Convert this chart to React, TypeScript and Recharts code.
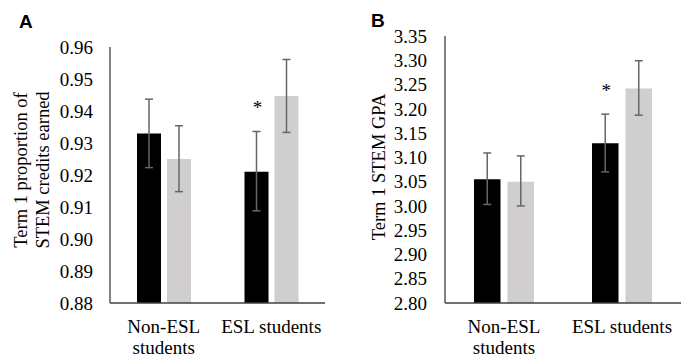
import React from "react";
import { BarChart, Bar, XAxis, YAxis, ErrorBar, LabelList, Text } from "recharts";

const groups = ["Non-ESL students", "ESL students"];
const sigMarks = ["", "*"];

// A: term 1 proportion of STEM credits earned
const creditsBlack = [0.933, 0.921];
const creditsBlackLow = [0.9223, 0.9088];
const creditsBlackHigh = [0.9437, 0.9336];
const creditsGray = [0.925, 0.9447];
const creditsGrayLow = [0.9148, 0.9333];
const creditsGrayHigh = [0.9354, 0.9561];
const creditsTicks = [0.88, 0.89, 0.9, 0.91, 0.92, 0.93, 0.94, 0.95, 0.96];

// B: term 1 STEM GPA
const gpaBlack = [3.055, 3.129];
const gpaBlackLow = [3.003, 3.07];
const gpaBlackHigh = [3.109, 3.189];
const gpaGray = [3.05, 3.242];
const gpaGrayLow = [3.0, 3.187];
const gpaGrayHigh = [3.103, 3.299];
const gpaTicks = [2.8, 2.85, 2.9, 2.95, 3.0, 3.05, 3.1, 3.15, 3.2, 3.25, 3.3, 3.35];

const SERIF = "'Liberation Serif', 'Times New Roman', serif";
const AXIS = "#404040";
const ERR = "#666666";

function makeRows(black, blackLow, blackHigh, gray, grayLow, grayHigh) {
  return groups.map((name, i) => ({
    name,
    black: black[i],
    blackHigh: blackHigh[i],
    blackErr: [black[i] - blackLow[i], blackHigh[i] - black[i]],
    gray: gray[i],
    grayErr: [gray[i] - grayLow[i], grayHigh[i] - gray[i]],
    sig: sigMarks[i],
  }));
}

const creditsRows = makeRows(creditsBlack, creditsBlackLow, creditsBlackHigh, creditsGray, creditsGrayLow, creditsGrayHigh);
const gpaRows = makeRows(gpaBlack, gpaBlackLow, gpaBlackHigh, gpaGray, gpaGrayLow, gpaGrayHigh);

// asterisk sits above the top of the black bar's error bar
function starLabel(rows, min) {
  return (props) => {
    const vb = props.viewBox || props;
    const { x, y, width, height } = vb;
    const row = rows[props.index];
    if (!row || !row.sig) return null;
    const pxPerUnit = height / (row.black - min);
    const yTop = y - (row.blackHigh - row.black) * pxPerUnit;
    return (
      <text x={x + width / 2 + 1} y={yTop - 17} textAnchor="middle" fontFamily={SERIF} fontSize={19} fill="#000000">
        {row.sig}
      </text>
    );
  };
}

function CategoryTick(props) {
  const { x, y, payload } = props;
  return (
    <Text
      x={x}
      y={y}
      width={112}
      textAnchor="middle"
      verticalAnchor="start"
      lineHeight={21}
      fontFamily={SERIF}
      fontSize={19}
      style={{ fontFamily: SERIF, fontSize: 19 }}
      fill="#000"
    >
      {payload.value}
    </Text>
  );
}

function ValueTick(props) {
  const { x, y, payload, fmt } = props;
  return (
    <text x={x} y={y} dy="0.355em" textAnchor="end" fontFamily={SERIF} fontSize={19} fill="#000">
      {fmt(payload.value)}
    </text>
  );
}

function AxisTitle({ lines, bx, cy }) {
  return (
    <text transform={`translate(${bx},${cy}) rotate(-90)`} textAnchor="middle" fontFamily={SERIF} fontSize={18.5} fill="#000">
      {lines.map((l, i) => (
        <tspan key={i} x={0} y={i * 22}>
          {l}
        </tspan>
      ))}
    </text>
  );
}

function Panel({ rows, ticks, width, margin, yWidth, tickGap, barSize, barGap, title, fmt }) {
  const min = ticks[0];
  return (
    <BarChart width={width} height={359} data={rows} margin={margin} barSize={barSize} barGap={barGap}>
      <XAxis
        dataKey="name"
        height={30}
        tickLine={false}
        tickSize={0}
        tickMargin={17}
        axisLine={{ stroke: AXIS, strokeWidth: 1.3 }}
        tick={<CategoryTick />}
        interval={0}
      />
      <YAxis
        width={yWidth}
        domain={[ticks[0], ticks[ticks.length - 1]]}
        ticks={ticks}
        interval={0}
        tickLine={false}
        tickSize={0}
        tickMargin={tickGap}
        axisLine={{ stroke: AXIS, strokeWidth: 1.3 }}
        tick={<ValueTick fmt={fmt} />}
        label={title}
      />
      <Bar dataKey="black" fill="#000000" isAnimationActive={false}>
        <ErrorBar dataKey="blackErr" stroke={ERR} strokeWidth={1.5} width={4} />
        <LabelList dataKey="sig" content={starLabel(rows, min)} />
      </Bar>
      <Bar dataKey="gray" fill="#d0cece" isAnimationActive={false}>
        <ErrorBar dataKey="grayErr" stroke={ERR} strokeWidth={1.5} width={4} />
      </Bar>
    </BarChart>
  );
}

export default function App() {
  return (
    <div style={{ position: "absolute", left: 0, top: 0, width: 687, height: 359, background: "#fff" }}>
      <div style={{ position: "absolute", left: 0, top: 0 }}>
        <Panel
          rows={creditsRows}
          ticks={creditsTicks}
          width={340}
          margin={{ top: 47, right: 15, bottom: 26, left: 0 }}
          yWidth={110}
          tickGap={17}
          barSize={24}
          barGap={6}
          fmt={(v) => v.toFixed(2)}
          title={<AxisTitle lines={["Term 1 proportion of", "STEM credits earned"]} bx={27} cy={170} />}
        />
      </div>
      <div style={{ position: "absolute", left: 340, top: 0 }}>
        <Panel
          rows={gpaRows}
          ticks={gpaTicks}
          width={347}
          margin={{ top: 36, right: 6, bottom: 26, left: 0 }}
          yWidth={105}
          tickGap={18}
          barSize={26.5}
          barGap={7}
          fmt={(v) => v.toFixed(2)}
          title={<AxisTitle lines={["Term 1 STEM GPA"]} bx={45} cy={167} />}
        />
      </div>
      <svg width={687} height={40} style={{ position: "absolute", left: 0, top: 0, pointerEvents: "none" }}>
        <text x={19} y={28} fontFamily="'Liberation Sans', Arial, sans-serif" fontWeight="bold" fontSize={19} fill="#000">
          A
        </text>
        <text x={371} y={27} fontFamily="'Liberation Sans', Arial, sans-serif" fontWeight="bold" fontSize={19} fill="#000">
          B
        </text>
      </svg>
    </div>
  );
}
